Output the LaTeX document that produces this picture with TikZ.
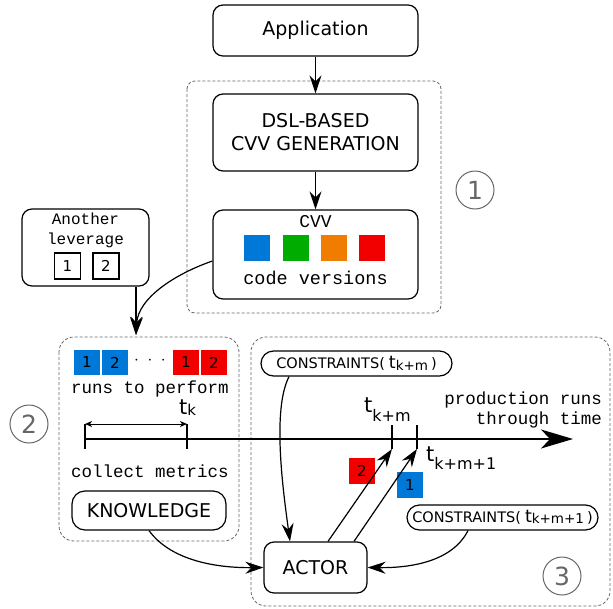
\documentclass[tikz,border=0pt]{standalone}
\usepackage{fontspec}
\setmainfont{DejaVu Sans}
\setmonofont{Liberation Mono}
\usepackage{xcolor}
\usetikzlibrary{arrows.meta}

\definecolor{cvblue}{RGB}{0,120,215}
\definecolor{cvgreen}{RGB}{0,172,0}
\definecolor{cvorange}{RGB}{240,125,0}
\definecolor{cvred}{RGB}{242,0,0}

% t with a lowered subscript: #1 = t size, #2 = sub size, #3 = drop, #4 = subscript
\newcommand{\tlab}[4]{{\fontsize{#1}{#1}\selectfont t}\raisebox{-#3pt}{\fontsize{#2}{#2}\selectfont #4}}

\begin{document}
\begin{tikzpicture}[x=1pt,y=-1pt,
	box/.style={draw, line width=1.2pt, rounded corners=10pt, inner sep=0pt, font=\fontsize{19}{23}\selectfont},
	pill/.style={draw, line width=1.2pt, rounded corners=12.5pt, inner sep=0pt, minimum width=191pt, minimum height=25pt, font=\fontsize{14.5}{16}\selectfont},
	group/.style={draw=black!60, dash pattern=on 3pt off 2pt, line width=0.8pt},
	arr/.style={-{Stealth[length=18pt,width=12pt,inset=6pt]}, line width=1.2pt},
	num/.style={circle, draw=black!60, text=black!60, line width=1pt, minimum size=38pt, inner sep=0pt, font=\fontsize{25}{25}\selectfont},
	sq/.style={minimum width=26pt, minimum height=26pt, inner sep=0pt, font=\fontsize{15}{15}\selectfont},
	mono/.style={inner sep=0pt, font=\ttfamily\fontsize{17.5}{20}\selectfont}]

	\useasboundingbox (0,0) rectangle (613,608);

	% groups
	\draw [group, rounded corners=8pt] (187,81) rectangle (441,313);
	\draw [group, rounded corners=15pt] (59,337) rectangle (239,541);
	\draw [group, rounded corners=15pt] (251,337) rectangle (610,606);
	\node [num] (one) at (475,190) {1};
	\node [num] (two) at (29,424) {2};
	\node [num] (three) at (562,576) {3};

	% generation
	\node [box, minimum width=205pt, minimum height=51pt] (app) at (315.5,30.5) {Application};
	\node [box, minimum width=205pt, minimum height=77pt, align=center] (dsl) at (315.5,132.5) {DSL-BASED\\CVV GENERATION};
	\node [box, minimum width=205pt, minimum height=89pt] (cvv) at (315.5,254.5) {};
	\node [mono, font=\ttfamily\fontsize{18}{20}\selectfont] (cvvlab) at (315.5,222) {CVV};
	\node [sq, fill=cvblue] (v1) at (257,248) {};
	\node [sq, fill=cvgreen] (v2) at (296,248) {};
	\node [sq, fill=cvorange] (v3) at (334,248) {};
	\node [sq, fill=cvred] (v4) at (372,248) {};
	\node [mono, font=\ttfamily\fontsize{18.5}{20}\selectfont] (versions) at (315.5,278) {code versions};

	\draw [arr] (app) -- (dsl);
	\draw [arr] (dsl) -- (cvv);

	% other leverage
	\node [box, minimum width=127pt, minimum height=77pt] (lev) at (85.5,247.5) {};
	\node [mono, font=\ttfamily\fontsize{16}{18}\selectfont] (levtop) at (85.5,219) {Another};
	\node [mono, font=\ttfamily\fontsize{16}{18}\selectfont] (levbot) at (85.5,240) {leverage};
	\node [sq, draw, line width=1.1pt] (l1) at (67.5,266) {1};
	\node [sq, draw, line width=1.1pt] (l2) at (106,266) {2};

	\coordinate (join) at (136,335);
	\draw [arr] (lev.south -| join) -- (join);
	\draw [arr] ([yshift=-6.5pt]cvv.west) .. controls (175,274) and (138,298) .. (join);

	% knowledge part
	\node [sq, fill=cvblue, minimum height=25pt] (r1) at (87,362.5) {1};
	\node [sq, fill=cvblue, minimum height=25pt] (r2) at (115,362.5) {2};
	\node [inner sep=0pt, font=\fontsize{18}{18}\selectfont] (dots) at (150,361) {$\cdot\;\cdot\;\cdot$};
	\node [sq, fill=cvred, minimum height=25pt] (r3) at (186,362.5) {1};
	\node [sq, fill=cvred, minimum height=25pt] (r4) at (214,362.5) {2};
	\node [mono] (runs) at (150,389) {runs to perform};
	\node [mono] (metrics) at (150,471) {collect metrics};
	\node [box, rounded corners=13pt, minimum width=154pt, minimum height=39pt] (know) at (149,510.5) {KNOWLEDGE};

	% time line
	\coordinate (t0) at (85,439);
	\coordinate (tend) at (573,439);
	\coordinate (ka) at (85,424);
	\coordinate (kb) at (187,424);
	\coordinate (m0) at (392,449);
	\coordinate (m1) at (417,449);
	\draw [line width=1.1pt] (ka) -- (85,449);
	\draw [line width=1.1pt] (kb) -- (187,449);
	\draw [{Stealth[length=7pt,width=6pt,inset=2pt]}-{Stealth[length=7pt,width=6pt,inset=2pt]}, line width=1pt] (ka) -- (kb);
	\draw [line width=1.1pt] (392,425) -- (m0);
	\draw [line width=1.1pt] (417,425) -- (m1);
	\draw [-{Stealth[length=32pt,width=19pt,inset=9pt]}, line width=1.8pt] (t0) -- (tend);
	\node [anchor=base west, inner sep=0pt] (tk) at (179,414.5) {\tlab{21}{15}{1}{k}};
	\node [anchor=base west, inner sep=0pt] (tkm) at (364,412.5) {\tlab{21}{16}{9}{k+m}};
	\node [anchor=base west, inner sep=0pt] (tkm1) at (426,461) {\tlab{21}{16}{8}{k+m+1}};
	\node [mono, align=right, anchor=east] (prod) at (602,409.5) {production runs\\through time};

	% actor part
	\node [pill] (cons1) at (356.5,363.5) {CONSTRAINTS(\hspace{4pt}\tlab{17.5}{13.5}{2.5}{k+m}\hspace{3pt})};
	\node [pill] (cons2) at (502.5,517.5) {CONSTRAINTS(\hspace{4pt}\tlab{17.5}{13.5}{1}{k+m+1}\hspace{3pt})};
	\node [box, minimum width=103pt, minimum height=51pt] (actor) at (315.5,567.5) {ACTOR};
	\node [sq, fill=cvred] (s2) at (362,471) {2};
	\node [sq, fill=cvblue] (s1) at (410,485) {1};

	\draw [arr] ([xshift=-67.5pt]cons1.south) .. controls (272,410) and (283,490) .. ([xshift=-25.5pt]actor.north);
	\draw [arr] (know.south) .. controls (172,562) and (220,568) .. (actor.west);
	\draw [arr] ([xshift=-34.5pt]cons2.south) .. controls (452,562) and (410,568) .. (actor.east);
	\draw [arr] ([xshift=12.5pt]actor.north) -- (m0);
	\draw [arr] ([xshift=38.5pt]actor.north) -- (m1);

\end{tikzpicture}
\end{document}
